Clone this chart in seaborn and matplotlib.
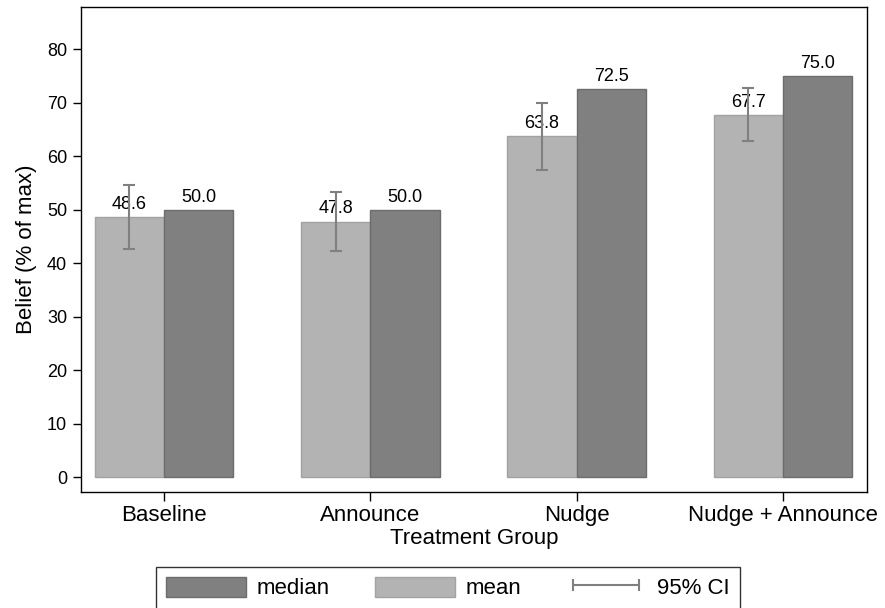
import matplotlib
matplotlib.use("Agg")
import matplotlib.pyplot as plt
import seaborn as sns
import pandas as pd
from matplotlib.patches import Patch
from matplotlib.lines import Line2D

groups = ["Baseline", "Announce", "Nudge", "Nudge + Announce"]
mean_vals = [48.6, 47.8, 63.8, 67.7]
median_vals = [50.0, 50.0, 72.5, 75.0]
ci_low = [42.7, 42.3, 57.5, 62.8]
ci_high = [54.6, 53.4, 70.0, 72.8]

mean_col = "#b3b3b3"
median_col = "#808080"

sns.set_style("ticks")
plt.rcParams["font.family"] = ["Liberation Sans", "DejaVu Sans"]
plt.rcParams["text.color"] = "black"
plt.rcParams["axes.labelcolor"] = "black"
plt.rcParams["xtick.color"] = "black"
plt.rcParams["ytick.color"] = "black"

df = pd.DataFrame({
    "group": groups * 2,
    "stat": ["mean"] * 4 + ["median"] * 4,
    "value": mean_vals + median_vals,
})

fig = plt.figure(figsize=(8.85, 6.08), dpi=100)
ax = fig.add_axes([0.0915, 0.1908, 0.8878, 0.7972])

sns.barplot(data=df, x="group", y="value", hue="stat", order=groups,
            hue_order=["mean", "median"],
            palette={"mean": mean_col, "median": median_col},
            width=0.672, gap=0, saturation=1, errorbar=None,
            legend=False, ax=ax)

edge = {0: "#a2a2a2", 1: "#6c6c6c"}
for i, cont in enumerate(ax.containers):
    for p in cont:
        p.set_edgecolor(edge[i])
        p.set_linewidth(1.0)
    ax.bar_label(cont, fmt="%.1f", padding=3, fontsize=13, color="black")

# 95% CI on the mean bars
xs = [p.get_x() + p.get_width() / 2 for p in ax.containers[0]]
err = [[m - lo for m, lo in zip(mean_vals, ci_low)],
       [hi - m for m, hi in zip(mean_vals, ci_high)]]
ax.errorbar(xs, mean_vals, yerr=err, fmt="none", ecolor="#808080",
            elinewidth=1.5, capsize=4, capthick=1.5, zorder=3)

ax.set_xlim(-0.402, 3.405)
ax.set_ylim(-2.71, 87.8)
ax.set_yticks(range(0, 81, 10))
ax.tick_params(axis="y", labelsize=13, length=6, width=1, pad=4)
ax.tick_params(axis="x", labelsize=16, length=6.5, width=1, pad=3)
ax.set_xlabel("Treatment Group", fontsize=16, labelpad=1)
ax.set_ylabel("Belief (% of max)", fontsize=16, labelpad=7)
for s in ax.spines.values():
    s.set_visible(True)
    s.set_color("black")
    s.set_linewidth(1.0)

handles = [
    Patch(facecolor=median_col, edgecolor="#6c6c6c", label="median"),
    Patch(facecolor=mean_col, edgecolor="#a2a2a2", label="mean"),
    Line2D([0, 1], [0, 0], color="#808080", lw=1.5, marker="|",
           markersize=8, markeredgewidth=1.5, label="95% CI"),
]
leg = fig.legend(handles=handles, loc="upper center",
                 bbox_to_anchor=(0.506, 0.068), ncol=3, fontsize=16,
                 frameon=True, fancybox=False, edgecolor="black",
                 handlelength=3.6, handleheight=1.0, handletextpad=0.5,
                 columnspacing=2.0, numpoints=2, borderpad=0.45,
                 borderaxespad=0)
leg.get_frame().set_linewidth(1.0)

fig.savefig("out.png", dpi=100)
